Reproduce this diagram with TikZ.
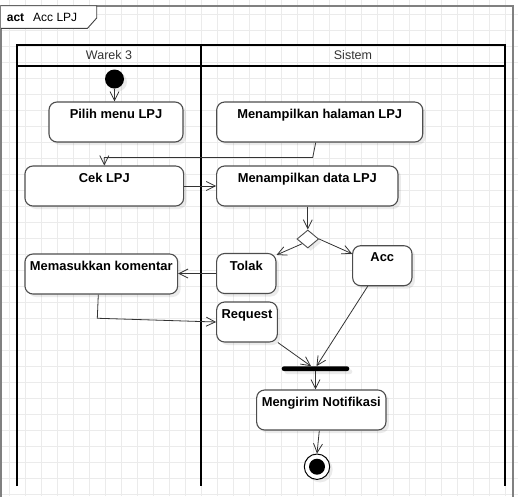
\documentclass[tikz,border=0pt]{standalone}
\usepackage{fontspec}
\setmainfont{Liberation Sans}
\usetikzlibrary{arrows.meta,shapes.geometric,shadows}
\definecolor{gridc}{HTML}{EBEBEB}
\definecolor{framec}{HTML}{808080}
\definecolor{boxc}{HTML}{4D4D4D}
\definecolor{edgec}{HTML}{333333}
\begin{document}
\begin{tikzpicture}[x=1pt,y=-1pt,
  gridline/.style={draw=gridc,line width=0.8pt},
  frameline/.style={draw=framec,line width=2pt},
  tabline/.style={draw=black!75,line width=0.9pt,fill=white},
  poolline/.style={draw=black,line width=1.5pt},
  lanelbl/.style={font=\fontsize{12.5}{14}\selectfont,text=black!80,inner sep=0pt},
  shad/.style={drop shadow={shadow xshift=3pt,shadow yshift=-3pt,fill=black,opacity=0.08}},
  act/.style={draw=boxc,line width=1.1pt,fill=white,rounded corners=8pt,shad,
     inner sep=0pt,rectangle},
  lbl/.style={anchor=north,inner sep=0pt,yshift=-7.5pt,
     font=\bfseries\fontsize{12.9}{15}\selectfont},
  edge/.style={draw=edgec,line width=0.8pt,-{Straight Barb[length=9pt,width=9pt]}},
  plain/.style={draw=edgec,line width=0.8pt}
]
\useasboundingbox (0,0) rectangle (518,496);
\fill[white] (0,0) rectangle (518,496);
% grid
\foreach \x in {9.5,25.5,...,521.5} \draw[gridline] (\x,0) -- (\x,496);
\foreach \y in {14,30,...,510} \draw[gridline] (0,\y) -- (518,\y);
% frame
\draw[frameline] (1,497) -- (1,5.7) -- (513.3,5.7) -- (513.3,497);
\draw[tabline] (1,5.7) -- (96.7,5.7) -- (96.7,18) -- (87.5,28.3) -- (1,28.3);
\node[anchor=base west,inner sep=0pt,font=\fontsize{12}{14}\selectfont] (title) at (6.7,21)
  {\textbf{act}\hspace{9pt}Acc LPJ};
% pool (open at the bottom)
\draw[poolline] (17,486) -- (17,45) -- (505,45) -- (505,486);
\draw[poolline] (17,66) -- (505,66);
\draw[poolline] (201,45) -- (201,486);
\node[lanelbl] (lw) at (109,55.5) {Warek 3};
\node[lanelbl] (ls) at (353,55.5) {Sistem};
% nodes
\node[circle,fill=black,minimum size=19pt,inner sep=0pt,shad] (init) at (114.5,79) {};
\node[act,minimum width=134pt,minimum height=40pt,label={[lbl]north:Pilih menu LPJ}] (pilih) at (116,122) {};
\node[act,minimum width=206pt,minimum height=40pt,label={[lbl]north:Menampilkan halaman LPJ}] (halaman) at (319.7,122) {};
\node[act,minimum width=158.7pt,minimum height=40pt,label={[lbl]north:Cek LPJ}] (cek) at (104.3,186) {};
\node[act,minimum width=181.3pt,minimum height=40pt,label={[lbl]north:Menampilkan data LPJ}] (data) at (307.3,186) {};
\node[diamond,draw=boxc,line width=0.9pt,fill=white,inner sep=0pt,minimum width=21.7pt,minimum height=18pt,shad] (dec) at (307.8,239) {};
\node[act,minimum width=59.3pt,minimum height=40pt,label={[lbl]north:Tolak}] (tolak) at (246.3,273.5) {};
\node[act,minimum width=59.3pt,minimum height=40pt,label={[lbl]north:Acc}] (acc) at (382.3,265.7) {};
\node[act,minimum width=152.7pt,minimum height=40pt,label={[lbl]north:Memasukkan komentar}] (komentar) at (101.3,274) {};
\node[act,minimum width=60.7pt,minimum height=40pt,label={[lbl]north:Request}] (request) at (247,322) {};
\node[rectangle,fill=black,rounded corners=2.3pt,minimum width=67.6pt,minimum height=4.7pt,inner sep=0pt,shad] (fork) at (315.5,368.7) {};
\node[act,minimum width=129.3pt,minimum height=40pt,label={[lbl]north:Mengirim Notifikasi}] (notif) at (321.3,410) {};
\node[circle,draw=black,line width=1pt,fill=white,minimum size=25.4pt,inner sep=0pt,shad,
  path picture={\fill[black] (path picture bounding box.center) circle (8pt);}] (final) at (317,466.7) {};
% edges
\draw[edge] (init.south) -- (init.south |- pilih.north);
\draw[edge] ([xshift=-4pt]halaman.south) -- ++(-3,15) -| (cek.north);
\draw[edge] (cek.east) -- (cek.east -| data.west);
\draw[edge] ([xshift=0.5pt]data.south) -- (dec.north);
\draw[edge] (dec.south west) -- ([yshift=-2pt]tolak.north east);
\draw[edge] (dec.east) -- ([yshift=-8.6pt]acc.north west);
\draw[edge] (tolak.west) -- (tolak.west -| komentar.east);
\draw[edge] ([xshift=-3pt]komentar.south) -- ++(-1,23.7) -- (request.west);
\draw[edge] (request.south east) -- ([xshift=-4.5pt]fork.north);
\draw[edge] ([xshift=-14.6pt]acc.south) -- ([xshift=1pt]fork.north);
\draw[edge] (fork.south) -- (fork.south |- notif.north);
\draw[edge] ([xshift=-2pt]notif.south) -- (final.north);
\end{tikzpicture}
\end{document}
